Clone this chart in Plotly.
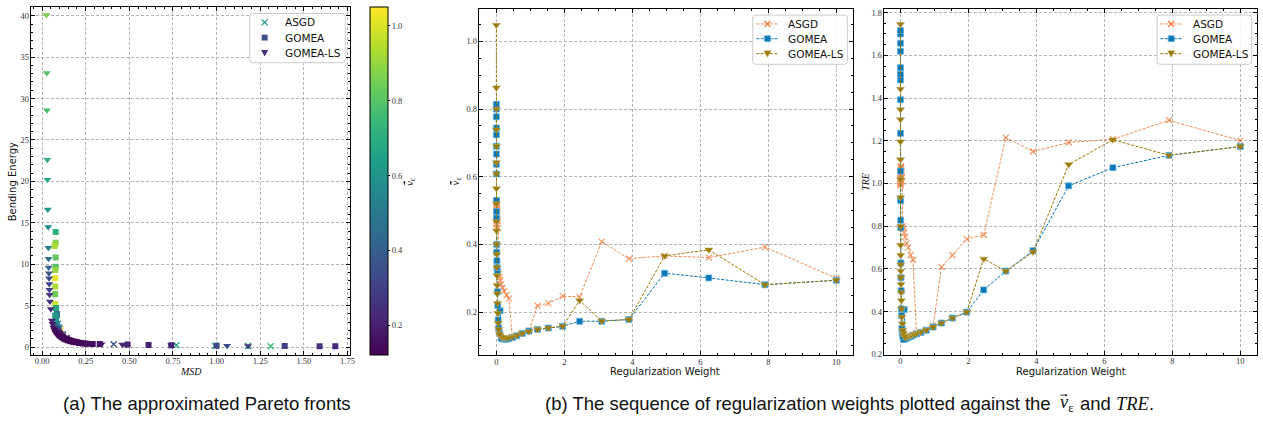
import plotly.graph_objects as go

# ---------------------------------------------------------------------------
# (a) Pareto fronts: MSD vs bending energy, coloured by v_eps
# ---------------------------------------------------------------------------
asgd_msd = [0.085, 0.09, 0.095, 0.10, 0.11, 0.12, 0.14, 0.41, 0.77, 0.99, 1.18, 1.31]
asgd_be = [3.3, 2.8, 2.4, 2.2, 2.07, 1.5, 1.1, 0.32, 0.22, 0.15, 0.12, 0.08]
asgd_ve = [0.55, 0.60, 0.50, 0.45, 1.02, 0.30, 0.25, 0.36, 0.70, 0.74, 0.55, 0.76]

gomea_msd = [0.078, 0.078, 0.072, 0.078, 0.078, 0.075, 0.075, 0.075, 0.075, 0.075,
             0.080, 0.085, 0.075, 0.080, 0.085, 0.090, 0.095, 0.10, 0.105, 0.11,
             0.115, 0.12, 0.13, 0.14, 0.145, 0.155, 0.16, 0.17, 0.175, 0.185,
             0.19, 0.20, 0.21, 0.22, 0.23, 0.245, 0.257, 0.29, 0.33, 0.49,
             0.61, 0.74, 1.00, 1.39, 1.59, 1.68]
gomea_be = [13.9, 12.6, 12.2, 10.8, 9.7, 9.3, 8.3, 7.3, 6.4, 5.2,
            4.7, 4.0, 3.8, 3.2, 2.6, 2.1, 1.9, 1.7, 1.55, 1.4,
            1.3, 1.2, 1.05, 0.95, 0.9, 0.82, 0.78, 0.72, 0.68, 0.63,
            0.6, 0.56, 0.52, 0.48, 0.45, 0.41, 0.38, 0.36, 0.35, 0.30,
            0.25, 0.22, 0.15, 0.12, 0.10, 0.08]
gomea_ve = [0.72, 0.87, 0.93, 0.82, 0.80, 0.90, 1.02, 0.93, 0.84, 0.98,
            0.68, 0.45, 0.62, 0.60, 0.50, 0.35, 0.25, 0.20, 0.18, 0.17,
            0.16, 0.15, 0.14, 0.14, 0.13, 0.13, 0.13, 0.13, 0.13, 0.13,
            0.13, 0.14, 0.14, 0.14, 0.14, 0.15, 0.15, 0.15, 0.16, 0.20,
            0.20, 0.22, 0.33, 0.30, 0.25, 0.23]

ls_msd = [0.025, 0.027, 0.028, 0.030, 0.031, 0.033, 0.035, 0.036, 0.037, 0.038,
          0.039, 0.040, 0.041, 0.042, 0.043, 0.045, 0.050, 0.056, 0.060, 0.065,
          0.070, 0.075, 0.080, 0.085, 0.090, 0.10, 0.11, 0.12, 0.135, 0.15,
          0.165, 0.18, 0.20, 0.22, 0.25, 0.28, 0.34, 0.46, 0.48, 0.74,
          1.06, 1.18]
ls_be = [40.1, 33.1, 28.6, 22.6, 20.2, 16.6, 14.5, 12.0, 10.65, 9.6,
         8.9, 8.3, 7.6, 6.9, 6.3, 5.5, 4.6, 3.2, 2.8, 2.4,
         2.1, 1.85, 1.65, 1.5, 1.4, 1.2, 1.05, 0.95, 0.82, 0.72,
         0.64, 0.57, 0.50, 0.45, 0.40, 0.37, 0.34, 0.30, 0.28, 0.22,
         0.15, 0.12]
ls_ve = [0.86, 0.80, 0.78, 0.72, 0.70, 0.62, 0.57, 0.52, 0.46, 0.40,
         0.37, 0.34, 0.32, 0.30, 0.28, 0.26, 0.24, 0.20, 0.18, 0.16,
         0.15, 0.14, 0.14, 0.13, 0.13, 0.13, 0.13, 0.13, 0.13, 0.13,
         0.13, 0.13, 0.14, 0.14, 0.15, 0.15, 0.16, 0.20, 0.22, 0.20,
         0.33, 0.30]

# ---------------------------------------------------------------------------
# (b) regularization weight sequence vs v_eps and TRE
# ---------------------------------------------------------------------------
reg_weight = [10.0, 7.9, 6.25, 4.95, 3.9, 3.1, 2.45, 1.95, 1.53, 1.21,
              0.96, 0.76, 0.6, 0.47, 0.37, 0.3, 0.23, 0.18, 0.14, 0.11,
              0.09, 0.07, 0.055, 0.043, 0.034, 0.027, 0.021, 0.017, 0.013, 0.01,
              0.008, 0.0065, 0.005, 0.004, 0.003, 0.0025, 0.002, 0.0015, 0.0012, 0.001,
              0.0008, 0.0006]

asgd_veps = [0.30, 0.392, 0.361, 0.366, 0.358, 0.408, 0.245, 0.247, 0.226, 0.219,
             0.146, 0.137, 0.13, 0.126, 0.240, 0.25, 0.262, 0.272, 0.282, 0.294,
             0.305, 0.313, 0.448, 0.47, 0.49, 0.50, 0.51, 0.515, 0.52, 0.522,
             0.525, 0.527, 0.528, 0.53, 0.52, 0.51, 0.50, 0.49, 0.48, 0.47,
             0.46, 0.45]
asgd_tre = [1.201, 1.296, 1.207, 1.192, 1.150, 1.215, 0.759, 0.740, 0.664, 0.610,
            0.333, 0.316, 0.305, 0.300, 0.643, 0.666, 0.70, 0.72, 0.75, 0.77,
            0.79, 0.80, 1.01, 1.03, 1.05, 1.06, 1.07, 1.08, 1.08, 1.075,
            1.07, 1.06, 1.05, 1.04, 1.03, 1.02, 1.02, 1.01, 1.01, 1.0,
            1.0, 0.99]

gomea_veps = [0.294, 0.281, 0.301, 0.315, 0.178, 0.173, 0.173, 0.158, 0.153, 0.149,
              0.144, 0.137, 0.130, 0.125, 0.122, 0.120, 0.120, 0.121, 0.123, 0.204,
              0.139, 0.153, 0.177, 0.22, 0.26, 0.323, 0.332, 0.352, 0.377, 0.40,
              0.478, 0.497, 0.53, 0.608, 0.637, 0.667, 0.690, 0.724, 0.744, 0.777,
              0.80, 0.814]
gomea_tre = [1.173, 1.132, 1.074, 0.989, 0.685, 0.590, 0.502, 0.398, 0.370, 0.347,
             0.328, 0.313, 0.303, 0.296, 0.290, 0.285, 0.280, 0.276, 0.272, 0.41,
             0.27, 0.283, 0.30, 0.321, 0.382, 0.413, 0.498, 0.559, 0.628, 0.793,
             0.828, 0.92, 1.058, 1.235, 1.392, 1.485, 1.511, 1.542, 1.619, 1.657,
             1.70, 1.716]

ls_veps = [0.294, 0.281, 0.384, 0.366, 0.178, 0.174, 0.234, 0.158, 0.153, 0.149,
           0.143, 0.137, 0.131, 0.127, 0.125, 0.124, 0.124, 0.125, 0.127, 0.131,
           0.135, 0.149, 0.168, 0.197, 0.226, 0.255, 0.279, 0.308, 0.332, 0.371,
           0.40, 0.44, 0.468, 0.521, 0.565, 0.608, 0.642, 0.69, 0.739, 0.80,
           0.863, 1.048]
ls_tre = [1.173, 1.132, 1.205, 1.089, 0.679, 0.590, 0.647, 0.398, 0.370, 0.347,
          0.328, 0.314, 0.305, 0.298, 0.293, 0.289, 0.285, 0.282, 0.280, 0.285,
          0.30, 0.313, 0.344, 0.375, 0.413, 0.452, 0.49, 0.528, 0.56, 0.59,
          0.62, 0.664, 0.712, 0.80, 0.935, 1.02, 1.112, 1.196, 1.30, 1.346,
          1.442, 1.745]

method_names = ["ASGD", "GOMEA", "GOMEA-LS"]

# ---------------------------------------------------------------------------
W, H = 1263, 428


def px_x(p):
    return p / W


def px_y(p):
    return 1 - p / H


SERIF = "Liberation Serif, DejaVu Serif, serif"
SANS = "DejaVu Sans, Liberation Sans, sans-serif"
CAP = "Liberation Sans, Arial, sans-serif"
tick_font = dict(family=SERIF, size=8.5, color="#333")

C_ASGD = "#EE7733"
C_GOMEA = "#0077BB"
C_LS = "#997700"

fig = go.Figure()

# ---- panel (a) -------------------------------------------------------------
fig.add_trace(go.Scatter(
    x=asgd_msd, y=asgd_be, mode="markers", name="ASGD", showlegend=False,
    marker=dict(symbol="x-thin", size=6,
                line=dict(width=1.4, color=asgd_ve, coloraxis="coloraxis")),
    xaxis="x", yaxis="y"))
fig.add_trace(go.Scatter(
    x=gomea_msd, y=gomea_be, mode="markers", name="GOMEA", showlegend=False,
    marker=dict(symbol="square", size=6, color=gomea_ve, coloraxis="coloraxis",
                line=dict(width=0)),
    xaxis="x", yaxis="y"))
fig.add_trace(go.Scatter(
    x=ls_msd, y=ls_be, mode="markers", name="GOMEA-LS", showlegend=False,
    marker=dict(symbol="triangle-down", size=7, color=ls_ve, coloraxis="coloraxis",
                line=dict(width=0)),
    xaxis="x", yaxis="y"))

# ---- panel (b) --------------------------------------------------------------
styles = [
    dict(color=C_ASGD, sym="x-thin", size=6, lw=1.2, edge="rgba(238,119,51,0.9)", op=0.85),
    dict(color=C_GOMEA, sym="square", size=6, lw=0.8, edge="#6fb4dc", op=1.0),
    dict(color=C_LS, sym="triangle-down", size=7, lw=0.6, edge="#c2ac62", op=1.0),
]
veps_series = [asgd_veps, gomea_veps, ls_veps]
tre_series = [asgd_tre, gomea_tre, ls_tre]

LINE_DASH = "3px,1.5px"
for axis_id, series in (("2", veps_series), ("3", tre_series)):
    for name, st, ys in zip(method_names, styles, series):
        fig.add_trace(go.Scatter(
            x=reg_weight, y=ys, mode="lines+markers", name=name, showlegend=False,
            line=dict(color=st["color"], width=1, dash=LINE_DASH),
            opacity=st["op"],
            marker=dict(symbol=st["sym"], size=st["size"], color=st["color"],
                        line=dict(width=st["lw"], color=st["edge"])),
            xaxis="x" + axis_id, yaxis="y" + axis_id))


def frame_axis(**kw):
    base = dict(
        showline=True, linecolor="black", linewidth=1, mirror="allticks",
        ticks="inside", ticklen=4, tickwidth=0.8, tickcolor="black",
        showgrid=True, gridcolor="#b4b4b4", gridwidth=0.8, griddash="3px,2px",
        zeroline=False, tickfont=tick_font,
    )
    base.update(kw)
    return base


def minor(step):
    return dict(ticks="inside", ticklen=2, dtick=step, tickcolor="black", showgrid=False)


fig.update_layout(
    width=W, height=H,
    margin=dict(l=0, r=0, t=0, b=0),
    paper_bgcolor="white", plot_bgcolor="white",
    showlegend=False,
    xaxis=frame_axis(domain=[px_x(30.7), px_x(351.7)], range=[-0.066, 1.766],
                     tickvals=[0, 0.25, 0.5, 0.75, 1.0, 1.25, 1.5, 1.75], tickformat=".2f",
                     minor=minor(0.05), ticklabelstandoff=-2, anchor="y"),
    yaxis=frame_axis(domain=[px_y(359), px_y(5.3)], range=[-0.98, 41.03],
                     tickvals=[0, 5, 10, 15, 20, 25, 30, 35, 40],
                     minor=minor(1), ticklabelstandoff=-1, anchor="x"),
    xaxis2=frame_axis(domain=[px_x(480.7), px_x(856)], range=[-0.516, 10.48],
                      tickvals=[0, 2, 4, 6, 8, 10],
                      minor=minor(0.5), ticklabelstandoff=-2, anchor="y2"),
    yaxis2=frame_axis(domain=[px_y(359.3), px_y(7.3)], range=[0.072, 1.095],
                      tickvals=[0.2, 0.4, 0.6, 0.8, 1.0], tickformat=".1f",
                      minor=minor(0.05), ticklabelstandoff=-1, anchor="x2"),
    xaxis3=frame_axis(domain=[px_x(887.3), px_x(1262)], range=[-0.49, 10.49],
                      tickvals=[0, 2, 4, 6, 8, 10],
                      minor=minor(0.5), ticklabelstandoff=-2, anchor="y3"),
    yaxis3=frame_axis(domain=[px_y(358.7), px_y(7.3)], range=[0.198, 1.816],
                      tickvals=[0.2, 0.4, 0.6, 0.8, 1.0, 1.2, 1.4, 1.6, 1.8], tickformat=".1f",
                      minor=minor(0.05), ticklabelstandoff=-1, anchor="x3"),
    coloraxis=dict(
        colorscale="Viridis", cmin=0.12, cmax=1.05,
        colorbar=dict(
            x=px_x(371.7), xanchor="left", y=px_y(182.15), yanchor="middle",
            thickness=17.6, thicknessmode="pixels",
            len=(359 - 5.3) / H, lenmode="fraction",
            xpad=0, ypad=0, outlinewidth=1, outlinecolor="black",
            ticks="outside", ticklen=2, tickcolor="black",
            tickvals=[0.2, 0.4, 0.6, 0.8, 1.0], ticktext=["0.2", "0.4", "0.6", "0.8", "1.0"],
            tickfont=tick_font,
        ),
    ),
)


# ---- legends (drawn as boxes with sample glyphs in paper space) ------------
def rounded_box(x0, y0, x1, y1, r=3):
    X = lambda v: f"{px_x(v):.6f}"
    Y = lambda v: f"{px_y(v):.6f}"
    path = (f"M {X(x0 + r)},{Y(y0)} L {X(x1 - r)},{Y(y0)} Q {X(x1)},{Y(y0)} {X(x1)},{Y(y0 + r)} "
            f"L {X(x1)},{Y(y1 - r)} Q {X(x1)},{Y(y1)} {X(x1 - r)},{Y(y1)} "
            f"L {X(x0 + r)},{Y(y1)} Q {X(x0)},{Y(y1)} {X(x0)},{Y(y1 - r)} "
            f"L {X(x0)},{Y(y0 + r)} Q {X(x0)},{Y(y0)} {X(x0 + r)},{Y(y0)} Z")
    fig.add_shape(type="path", path=path, xref="paper", yref="paper",
                  fillcolor="rgba(255,255,255,0.85)", line=dict(color="#cccccc", width=1))


def glyph(sym, cx, cy, fill, edge, edge_w, half=3.0):
    if sym == "x-thin":
        for dy in (-half, half):
            fig.add_shape(type="line", xref="paper", yref="paper",
                          x0=px_x(cx - half), y0=px_y(cy - dy), x1=px_x(cx + half), y1=px_y(cy + dy),
                          line=dict(color=fill, width=1.3))
    elif sym == "square":
        fig.add_shape(type="rect", xref="paper", yref="paper",
                      x0=px_x(cx - half), y0=px_y(cy - half), x1=px_x(cx + half), y1=px_y(cy + half),
                      fillcolor=fill, line=dict(color=edge, width=edge_w))
    else:
        h = half + 0.6
        path = (f"M {px_x(cx - h):.6f},{px_y(cy - h * 0.8):.6f} L {px_x(cx + h):.6f},{px_y(cy - h * 0.8):.6f} "
                f"L {px_x(cx):.6f},{px_y(cy + h):.6f} Z")
        fig.add_shape(type="path", path=path, xref="paper", yref="paper",
                      fillcolor=fill, line=dict(color=edge, width=edge_w))


def legend_text(text, x, y):
    fig.add_annotation(text=text, x=px_x(x), y=px_y(y), xref="paper", yref="paper",
                       xanchor="left", yanchor="middle", showarrow=False,
                       font=dict(family=SANS, size=10.5, color="#111"))


# panel (a)
rounded_box(250.7, 11.7, 346.7, 61.7)
legend_a_cols = ["#1f9e89", "#3b528b", "#472d7b"]
legend_a_sym = ["x-thin", "square", "triangle-down"]
for name, col, sym, yy in zip(method_names, legend_a_cols, legend_a_sym, (20.7, 36.2, 51.7)):
    glyph(sym, 265.7, yy, col, col, 0)
    legend_text(name, 284.5, yy)

# panels (b)
for bx0, bx1, lx0, lx1, tx in ((755.7, 850.7, 759.3, 781.7, 789.5),
                               (1161.7, 1256.7, 1165.0, 1186.7, 1195.5)):
    rounded_box(bx0, 13.3, bx1, 63.3)
    for name, st, yy in zip(method_names, styles, (22.3, 37.3, 52.5)):
        fig.add_shape(type="line", xref="paper", yref="paper",
                      x0=px_x(lx0), y0=px_y(yy), x1=px_x(lx1), y1=px_y(yy),
                      line=dict(color=st["color"], width=1, dash=LINE_DASH), opacity=st["op"])
        glyph(st["sym"], (lx0 + lx1) / 2, yy, st["color"], st["edge"], st["lw"])
        legend_text(name, tx, yy)


# ---- axis titles and captions ----------------------------------------------
def label(text, x, y, fam, size, ang=0, anchor="center"):
    fig.add_annotation(text=text, x=px_x(x), y=px_y(y), xref="paper", yref="paper",
                       xanchor=anchor, yanchor="middle", showarrow=False, textangle=ang,
                       font=dict(family=fam, size=size, color="#111"))


def vec_arrow(x_head, y_head, ax, ay):
    # small arrow drawn over the v of the vector symbol
    fig.add_annotation(text="", x=px_x(x_head), y=px_y(y_head), xref="paper", yref="paper",
                       showarrow=True, ax=ax, ay=ay, axref="pixel", ayref="pixel",
                       arrowhead=2, arrowsize=0.6, arrowwidth=0.8, arrowcolor="#111",
                       standoff=0, startstandoff=0)


VE = "<i>v</i><sub>\u03b5</sub>"


def vec_label_vertical(x, y, size):
    # v_eps rotated to read upwards, with the vector arrow on top of the v
    label(VE, x, y, SERIF, size, ang=-90)
    vc = y + 0.17 * size
    vec_arrow(x - 0.45 * size, vc - 0.25 * size, 0, 0.5 * size)


label("Bending Energy", 12.7, 182.7, SANS, 10, ang=-90)
label("<i>MSD</i>", 191.7, 375.7, SERIF, 10)
vec_label_vertical(411, 182.7, 11)
vec_label_vertical(457.5, 182.7, 11)
label("Regularization Weight", 668, 375.5, SANS, 10)
label("<i>TRE</i>", 868.3, 183, SERIF, 10, ang=-90)
label("Regularization Weight", 1075, 375.5, SANS, 10)

CAP_SIZE = 18.5
label("(a) The approximated Pareto fronts", 207.5, 408, CAP, CAP_SIZE)

# caption (b) is set in three pieces so the vector symbol can carry its arrow
cap_left = "(b) The sequence of regularization weights plotted against the"
cap_right = "and <span style='font-family:Liberation Serif'><i>TRE</i></span>."
em = CAP_SIZE
left_w = 27.05 * em
gap = 0.278 * em
sym_w = 0.78 * em
right_w = 4.05 * em
start = 857 - (left_w + gap + sym_w + gap + right_w) / 2
label(cap_left, start + left_w, 408, CAP, CAP_SIZE, anchor="right")
sym_x = start + left_w + gap
label(VE, sym_x, 408, SERIF, CAP_SIZE, anchor="left")
v_mid = sym_x + 0.27 * em
vec_arrow(v_mid + 0.24 * em, 408 - 0.45 * em, -0.48 * em, 0)
label(cap_right, sym_x + sym_w + gap, 408, CAP, CAP_SIZE, anchor="left")

fig.write_html("out.html")
